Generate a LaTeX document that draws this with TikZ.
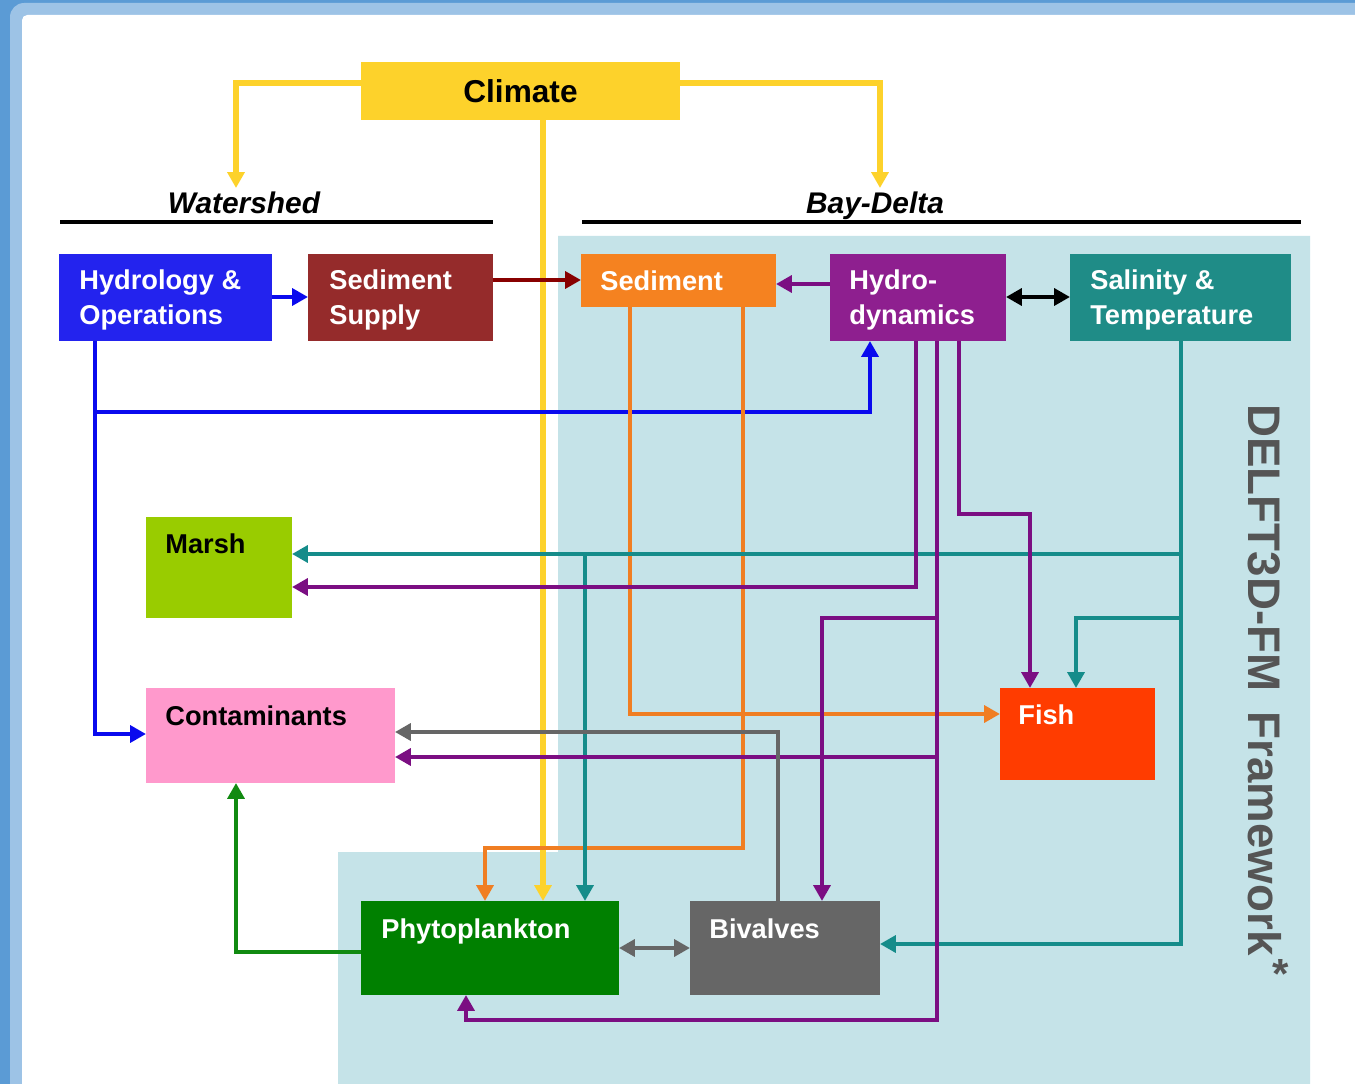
\documentclass[tikz,border=0pt]{standalone}
\usepackage{fontspec}
\setmainfont{Liberation Sans}
\usetikzlibrary{arrows.meta}
\definecolor{frameA}{HTML}{5B9BD5}
\definecolor{frameB}{HTML}{9DC3E6}
\definecolor{bay}{HTML}{C5E3E8}
\definecolor{cYel}{HTML}{FDD22B}
\definecolor{cBlu}{HTML}{2323EE}
\definecolor{lBlu}{HTML}{0A0AEE}
\definecolor{cDred}{HTML}{952B2B}
\definecolor{lDred}{HTML}{880000}
\definecolor{cOra}{HTML}{F58220}
\definecolor{lOra}{HTML}{F07E22}
\definecolor{cPur}{HTML}{8E1F8F}
\definecolor{lPur}{HTML}{7B0E82}
\definecolor{cTeal}{HTML}{1F8C87}
\definecolor{lTeal}{HTML}{158C8A}
\definecolor{cMarsh}{HTML}{99CC00}
\definecolor{cPink}{HTML}{FF99CC}
\definecolor{cFish}{HTML}{FF3C00}
\definecolor{cPhy}{HTML}{008000}
\definecolor{lPhy}{HTML}{118A11}
\definecolor{cGray}{HTML}{666666}
\definecolor{tGray}{HTML}{555555}
\tikzset{
  box/.style={draw=none, inner sep=0pt, outer sep=0pt, anchor=north west},
  lbl/.style={font=\fontsize{15.5}{19.6}\selectfont\bfseries, text=white, align=left, inner sep=0pt},
  conn/.style={line width=2.5pt, -{Triangle[length=9pt,width=9.5pt]}},
  ylw/.style={conn, cYel, line width=2.9pt},
  blu/.style={conn, lBlu, line width=2.7pt},
  pur/.style={conn, lPur},
  ora/.style={conn, lOra},
  tea/.style={conn, lTeal},
  both/.style={{Triangle[length=9pt,width=9.5pt]}-{Triangle[length=9pt,width=9.5pt]}},
}
\begin{document}
\begin{tikzpicture}[x=0.02cm, y=-0.02cm]
\useasboundingbox (0,0) rectangle (1355,1084);
\clip (0,0) rectangle (1355,1084);
% frame
\fill[frameA] (0,0) rectangle (1355,1084);
\fill[frameB, rounded corners=8] (10,3) rectangle (1380,1110);
\fill[white, rounded corners=3] (22,15) rectangle (1380,1110);
% bay region
\fill[bay] (558,236) -- (1310,236) -- (1310,1090) -- (338,1090) -- (338,852) -- (558,852) -- cycle;

% headings
\node[font=\fontsize{17}{20}\selectfont\bfseries\itshape, anchor=base, inner sep=0pt] (wshed) at (244,214) {Watershed};
\node[font=\fontsize{17}{20}\selectfont\bfseries\itshape, anchor=base, inner sep=0pt] (bdelta) at (875,214) {Bay-Delta};
\draw[line width=2.4pt] (60,222) -- (493,222);
\draw[line width=2.4pt] (582,222) -- (1301,222);

% boxes
\node[box, fill=cYel, minimum width=6.38cm, minimum height=1.16cm, font=\fontsize{18}{20}\selectfont\bfseries] (climate) at (361,62) {Climate};
\node[box, fill=cBlu, minimum width=4.26cm, minimum height=1.74cm] (hydrol) at (59,254) {};
\node[box, fill=cDred, minimum width=3.70cm, minimum height=1.74cm] (sedsup) at (308,254) {};
\node[box, fill=cOra, minimum width=3.90cm, minimum height=1.06cm] (sediment) at (581,254) {};
\node[box, fill=cPur, minimum width=3.52cm, minimum height=1.74cm] (hydro) at (830,254) {};
\node[box, fill=cTeal, minimum width=4.42cm, minimum height=1.74cm] (salin) at (1070,254) {};
\node[box, fill=cMarsh, minimum width=2.92cm, minimum height=2.02cm] (marsh) at (146,517) {};
\node[box, fill=cPink, minimum width=4.98cm, minimum height=1.90cm] (contam) at (146,688) {};
\node[box, fill=cFish, minimum width=3.10cm, minimum height=1.84cm] (fish) at (1000,688) {};
\node[box, fill=cPhy, minimum width=5.16cm, minimum height=1.88cm] (phyto) at (361,901) {};
\node[box, fill=cGray, minimum width=3.80cm, minimum height=1.88cm] (bival) at (690,901) {};

% box texts
\node[lbl, anchor=west] (thydrol) at (79,300) {Hydrology \&\\Operations};
\node[lbl, anchor=west] (tsedsup) at (329,300) {Sediment\\Supply};
\node[lbl, anchor=base west] (tsed) at (600,291) {Sediment};
\node[lbl, anchor=west] (thydro) at (849,300) {Hydro-\\dynamics};
\node[lbl, anchor=west] (tsalin) at (1090,300) {Salinity \&\\Temperature};
\node[lbl, anchor=base west, text=black] (tmarsh) at (165,553) {Marsh};
\node[lbl, anchor=base west, text=black] (tcontam) at (165,725) {Contaminants};
\node[lbl, anchor=base west] (tfish) at (1018,724) {Fish};
\node[lbl, anchor=base west] (tphyto) at (381,938) {Phytoplankton};
\node[lbl, anchor=base west] (tbival) at (709,938) {Bivalves};

% framework label
\node[rotate=-90, font=\fontsize{26}{28}\selectfont\bfseries, text=tGray, inner sep=0pt] (delft) at (1265,680) {DELFT3D-FM\hspace{0.45em}Framework};
\node[font=\fontsize{24}{26}\selectfont\bfseries, text=tGray, inner sep=0pt] (ast) at (1281,974) {*};

% free ends / junctions
\coordinate (wsend) at (236,188);
\coordinate (bdend) at (880,188);
\coordinate (jp1) at (937,618);
\coordinate (jp2) at (937,757);
\coordinate (jt1) at (1181,554);
\coordinate (jt2) at (585,554);
\coordinate (jt3) at (1181,618);
\coordinate (jb1) at (95,412);

% climate
\draw[ylw] (climate.west |- 0,83) -| (wsend);
\draw[ylw] (climate.east |- 0,83) -| (bdend);
\draw[ylw] (climate.south -| 543,0) -- (phyto.north -| 543,0);

% top row
\draw[blu] (hydrol.east |- 0,297) -- (sedsup.west |- 0,297);
\draw[conn, lDred] (sedsup.east |- 0,280) -- (sediment.west |- 0,280);
\draw[pur] (hydro.west |- 0,284) -- (sediment.east |- 0,284);
\draw[conn, black, both] (hydro.east |- 0,297) -- (salin.west |- 0,297);

% hydrology
\draw[blu] (hydrol.south -| 95,0) |- (contam.west |- 0,734);
\draw[blu] (jb1) -| (hydro.south -| 870,0);

% sediment
\draw[ora] (sediment.south -| 630,0) |- (fish.west |- 0,714);
\draw[ora] (sediment.south -| 743,0) |- (485,848) -- (phyto.north -| 485,0);

% salinity (teal)
\draw[tea] (salin.south -| 1181,0) |- (bival.east |- 0,944);
\draw[tea] (jt1) -- (marsh.east |- 0,554);
\draw[tea] (jt2) -- (phyto.north -| 585,0);
\draw[tea] (jt3) -| (fish.north -| 1076,0);

% hydrodynamics (purple)
\draw[pur] (hydro.south -| 916,0) |- (marsh.east |- 0,587);
\draw[pur] (hydro.south -| 937,0) |- (466,1020) -- (phyto.south -| 466,0);
\draw[pur] (jp1) -| (bival.north -| 822,0);
\draw[pur] (jp2) -- (contam.east |- 0,757);
\draw[pur] (hydro.south -| 959,0) |- (1030,514) -- (fish.north -| 1030,0);

% bivalves / phyto
\draw[conn, cGray] (bival.north -| 778,0) |- (contam.east |- 0,732);
\draw[conn, cGray, both] (phyto.east |- 0,948) -- (bival.west |- 0,948);
\draw[conn, lPhy] (phyto.west |- 0,952) -| (contam.south -| 236,0);
\end{tikzpicture}
\end{document}
